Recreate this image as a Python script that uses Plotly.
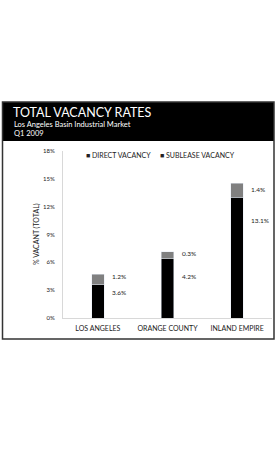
import plotly.graph_objects as go

# ---- data ----
categories = ["LOS ANGELES", "ORANGE COUNTY", "INLAND EMPIRE"]
direct_bar = [3.6, 6.4, 13.0]        # drawn heights
sublease_bar = [1.1, 0.75, 1.5]
direct_text = ["3.6%", "4.2%", "13.1%"]
sublease_text = ["1.2%", "0.3%", "1.4%"]
direct_label_y = [2.8, 4.45, 10.5]
sublease_label_y = [4.5, 6.95, 13.8]
y_ticks = [0, 3, 6, 9, 12, 15, 18]
y_tick_text = ["0%", "3%", "6%", "9%", "12%", "15%", "18%"]

W, H = 276, 460
L, R, T, B = 63, 4, 151, 142
PW, PH = W - L - R, H - T - B

def px(x):
    return (x - L) / PW

def py(y):
    return (H - B - y) / PH

FONT = "Lato"

fig = go.Figure()
fig.add_trace(go.Bar(x=categories, y=direct_bar, marker_color="#000000",
                     width=0.18, name="DIRECT VACANCY", showlegend=False))
fig.add_trace(go.Bar(x=categories, y=sublease_bar, marker_color="#808080",
                     width=0.18, name="SUBLEASE VACANCY", showlegend=False))

annotations = []
for i, c in enumerate(categories):
    annotations.append(dict(x=c, y=sublease_label_y[i], xref="x", yref="y",
                            text=sublease_text[i], showarrow=False, xanchor="left",
                            xshift=12, font=dict(family=FONT, size=6.5, color="#222")))
    annotations.append(dict(x=c, y=direct_label_y[i], xref="x", yref="y",
                            text=direct_text[i], showarrow=False, xanchor="left",
                            xshift=12, font=dict(family=FONT, size=6.5, color="#222")))

# header text
annotations += [
    dict(x=px(11), y=py(112), xref="paper", yref="paper", text="TOTAL VACANCY RATES",
         showarrow=False, xanchor="left", yanchor="middle",
         font=dict(family=FONT, size=12.5, color="white")),
    dict(x=px(11.5), y=py(124), xref="paper", yref="paper",
         text="Los Angeles Basin Industrial Market",
         showarrow=False, xanchor="left", yanchor="middle",
         font=dict(family=FONT, size=7.5, color="white")),
    dict(x=px(11.5), y=py(133), xref="paper", yref="paper", text="Q1 2009",
         showarrow=False, xanchor="left", yanchor="middle",
         font=dict(family=FONT, size=7.5, color="white")),
    # legend
    dict(x=px(84), y=py(155), xref="paper", yref="paper",
         text="■ DIRECT VACANCY", showarrow=False, xanchor="left", yanchor="middle",
         font=dict(family=FONT, size=7, color="#222")),
    dict(x=px(158), y=py(155), xref="paper", yref="paper",
         text="■ SUBLEASE VACANCY", showarrow=False, xanchor="left", yanchor="middle",
         font=dict(family=FONT, size=7, color="#222")),
    # y title
    dict(x=px(36), y=py(234), xref="paper", yref="paper", text="% VACANT (TOTAL)",
         showarrow=False, textangle=-90, xanchor="center", yanchor="middle",
         font=dict(family=FONT, size=7, color="#222")),
]

shapes = [
    dict(type="rect", xref="paper", yref="paper", x0=px(2), x1=px(274), y0=py(141), y1=py(102),
         fillcolor="black", line=dict(width=0), layer="below"),
    dict(type="rect", xref="paper", yref="paper", x0=px(2.5), x1=px(274), y0=py(339), y1=py(102),
         fillcolor="rgba(0,0,0,0)", line=dict(color="#333", width=1.5)),
]

fig.update_layout(
    width=W, height=H, barmode="stack",
    margin=dict(l=L, r=R, t=T, b=B),
    paper_bgcolor="white", plot_bgcolor="white",
    font=dict(family=FONT, color="#222"),
    annotations=annotations, shapes=shapes,
    xaxis=dict(showgrid=False, showline=True, linecolor="#d8d8d8", linewidth=1,
               tickfont=dict(size=7, color="#222", family=FONT), ticks="",
               ticklabelstandoff=4, range=[-0.5, 2.5]),
    yaxis=dict(range=[0, 18], tickvals=y_ticks, ticktext=y_tick_text, showgrid=False,
               showline=True, linecolor="#d8d8d8", linewidth=1, zeroline=False,
               tickfont=dict(size=6, color="#222", family=FONT), ticks="",
               ticklabelstandoff=6),
)

fig.write_html("out.html")
